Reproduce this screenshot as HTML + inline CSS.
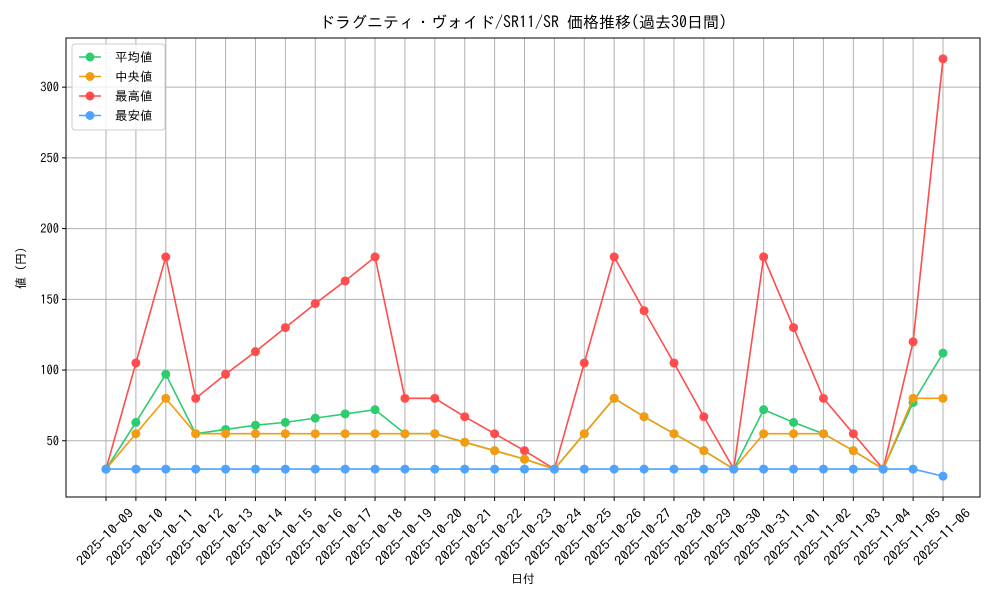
<!DOCTYPE html>
<html><head><meta charset="utf-8"><style>
body{margin:0;background:#fff;}
svg{display:block;font-family:"IPAGothic","Liberation Sans","Noto Sans CJK JP",sans-serif;}
</style></head><body>
<svg id="chart" width="1000" height="600" viewBox="0 0 1000 600" xmlns="http://www.w3.org/2000/svg">
<rect width="1000" height="600" fill="#fff"/>
<text x="523" y="28" text-anchor="middle" font-size="16" fill="#000">ドラグニティ・ヴォイド/SR11/SR 価格推移(過去30日間)</text>
<g id="grid"></g><g id="axes"></g><g id="series"></g>
<rect x="66" y="38" width="914" height="459" fill="none" stroke="#000" stroke-width="1"/>
<text x="523" y="583" text-anchor="middle" font-size="12">日付</text>
<text transform="translate(25,268) rotate(-90)" text-anchor="middle" font-size="12">値 (円)</text>
<g id="legend"></g>
</svg>
<script>
const dates=["2025-10-09","2025-10-10","2025-10-11","2025-10-12","2025-10-13","2025-10-14","2025-10-15","2025-10-16","2025-10-17","2025-10-18","2025-10-19","2025-10-20","2025-10-21","2025-10-22","2025-10-23","2025-10-24","2025-10-25","2025-10-26","2025-10-27","2025-10-28","2025-10-29","2025-10-30","2025-10-31","2025-11-01","2025-11-02","2025-11-03","2025-11-04","2025-11-05","2025-11-06"];
const avgVals=[30,63,97,55,58,61,63,66,69,72,55,55,49,43,37,30,55,80,67,55,43,30,72,63,55,43,30,77,112];
const medVals=[30,55,80,55,55,55,55,55,55,55,55,55,49,43,37,30,55,80,67,55,43,30,55,55,55,43,30,80,80];
const maxVals=[30,105,180,80,97,113,130,147,163,180,80,80,67,55,43,30,105,180,142,105,67,30,180,130,80,55,30,120,320];
const minVals=[30,30,30,30,30,30,30,30,30,30,30,30,30,30,30,30,30,30,30,30,30,30,30,30,30,30,30,30,25];
const yTicks=[50,100,150,200,250,300];
const seriesNames=["平均値","中央値","最高値","最安値"];
const NS="http://www.w3.org/2000/svg";
function mk(p,t,a){const e=document.createElementNS(NS,t);for(const k in a)e.setAttribute(k,a[k]);p.appendChild(e);return e;}
const all=[].concat(avgVals,medVals,maxVals,minVals);
const dmin=Math.min(...all),dmax=Math.max(...all),pad=(dmax-dmin)*0.05;
const y0=dmin-pad,y1=dmax+pad;
const X=i=>106+i*(943-106)/(dates.length-1);
const Y=v=>497-(v-y0)/(y1-y0)*459;
const grid=document.getElementById('grid'),axes=document.getElementById('axes');
dates.forEach((d,i)=>{
 const g=mk(grid,'line',{x1:X(i),x2:X(i),y1:38,y2:497,stroke:'#b0b0b0','stroke-width':1});
 
 
 mk(axes,'line',{x1:X(i),x2:X(i),y1:497,y2:501,stroke:'#000'});
 const t=mk(axes,'text',{x:0,y:4.5,'text-anchor':'middle','font-size':13,textLength:74,lengthAdjust:'spacingAndGlyphs',transform:`translate(${X(i)-1},${537}) rotate(-45)`});
 t.textContent=d;
 
 
});
yTicks.forEach(v=>{
 const g=mk(grid,'line',{x1:66,x2:980,y1:Y(v),y2:Y(v),stroke:'#b0b0b0','stroke-width':1});
 
 
 mk(axes,'line',{x1:62,x2:66,y1:Y(v),y2:Y(v),stroke:'#000'});
 const t=mk(axes,'text',{x:59,y:Y(v)+4.5,'text-anchor':'end','font-size':12.5});
 t.textContent=v;
 
 
});
const colors=["#2ecc71","#f39c12","#ff4d4d","#4da3ff"];
const data=[avgVals,medVals,maxVals,minVals];
const ser=document.getElementById('series');
[2,0,1,3].forEach(k=>{
 const g=mk(ser,'g',{});
 
 
 mk(g,'polyline',{points:data[k].map((v,i)=>X(i)+','+Y(v)).join(' '),fill:'none',stroke:colors[k],'stroke-width':1.6});
 data[k].forEach((v,i)=>{
  const c=mk(g,'circle',{cx:X(i),cy:Y(v),r:4.5,fill:colors[k]});
  
  
 });
});
const lg=document.getElementById('legend');
const box=mk(lg,'rect',{x:72,y:44,width:93,height:86,rx:3,fill:'#fff','fill-opacity':0.8,stroke:'#ccc'});


seriesNames.forEach((n,k)=>{
 const yy=57+k*19.5;
 const g=mk(lg,'g',{});
 
 
 mk(g,'line',{x1:79,x2:101,y1:yy,y2:yy,stroke:colors[k],'stroke-width':1.6});
 mk(g,'circle',{cx:90,cy:yy,r:4.5,fill:colors[k]});
 const t=mk(g,'text',{x:115,y:yy+4.5,'font-size':12.5});
 t.textContent=n;
});
</script>
</body></html>
